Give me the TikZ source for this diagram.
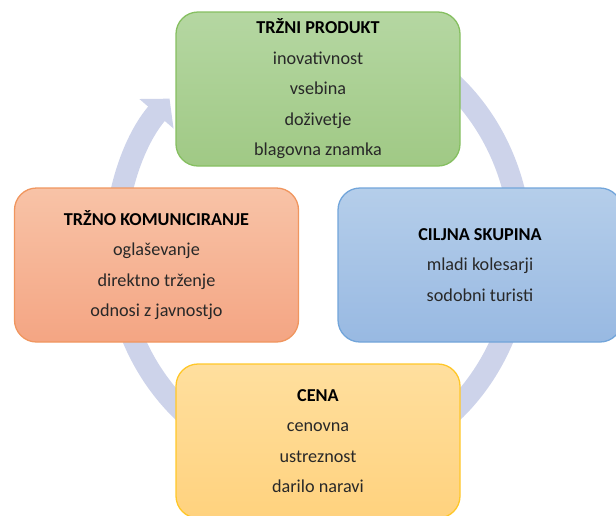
\documentclass[tikz,border=0pt]{standalone}
\usepackage{fontspec}
\setmainfont{Carlito}
\usetikzlibrary{arrows.meta}

\definecolor{ringcol}{HTML}{CDD3EA}
\definecolor{textcol}{HTML}{282828}
\definecolor{greentop}{HTML}{B5D7A2}
\definecolor{greenbot}{HTML}{A0C985}
\definecolor{greenline}{HTML}{86BF61}
\definecolor{orangetop}{HTML}{F8C3A7}
\definecolor{orangebot}{HTML}{F4A583}
\definecolor{orangeline}{HTML}{F0965F}
\definecolor{bluetop}{HTML}{B5CEEA}
\definecolor{bluebot}{HTML}{98B9E2}
\definecolor{blueline}{HTML}{72A5DA}
\definecolor{yellowtop}{HTML}{FFDF9E}
\definecolor{yellowbot}{HTML}{FFD27E}
\definecolor{yellowline}{HTML}{FFC729}

\tikzset{
  box/.style={rounded corners=22pt, line width=1.3pt, minimum width=284pt,
    minimum height=154pt, align=center, text=textcol,
    font=\fontsize{18.2}{30.5}\selectfont},
  ring/.style={ringcol, line width=22pt}
}

\begin{document}
\begin{tikzpicture}[x=1pt, y=1pt]
	\useasboundingbox (0,0) rectangle (616,-515);
	% ring behind the boxes
	\draw[ring, -{Triangle[width=44pt, length=20pt]}]
		(318,-248) ++(60:203pt and 219pt)
		arc[start angle=60, end angle=-223, x radius=203pt, y radius=219pt];
	\node[box, draw=greenline, top color=greentop, bottom color=greenbot] (produkt) at (318,-89)
		{\textbf{\color{black}TRŽNI PRODUKT}\\ inovativnost\\ vsebina\\ doživetje\\ blagovna znamka};
	\node[box, draw=orangeline, top color=orangetop, bottom color=orangebot] (komuniciranje) at (156.5,-265)
		{\textbf{\color{black}TRŽNO KOMUNICIRANJE}\\ oglaševanje\\ direktno trženje\\ odnosi z javnostjo};
	\node[box, draw=blueline, top color=bluetop, bottom color=bluebot] (skupina) at (480,-265)
		{\textbf{\color{black}CILJNA SKUPINA}\\ mladi kolesarji\\ sodobni turisti};
	\node[box, draw=yellowline, top color=yellowtop, bottom color=yellowbot] (cena) at (318,-441)
		{\textbf{\color{black}CENA}\\ cenovna\\ ustreznost\\ darilo naravi};
\end{tikzpicture}
\end{document}
